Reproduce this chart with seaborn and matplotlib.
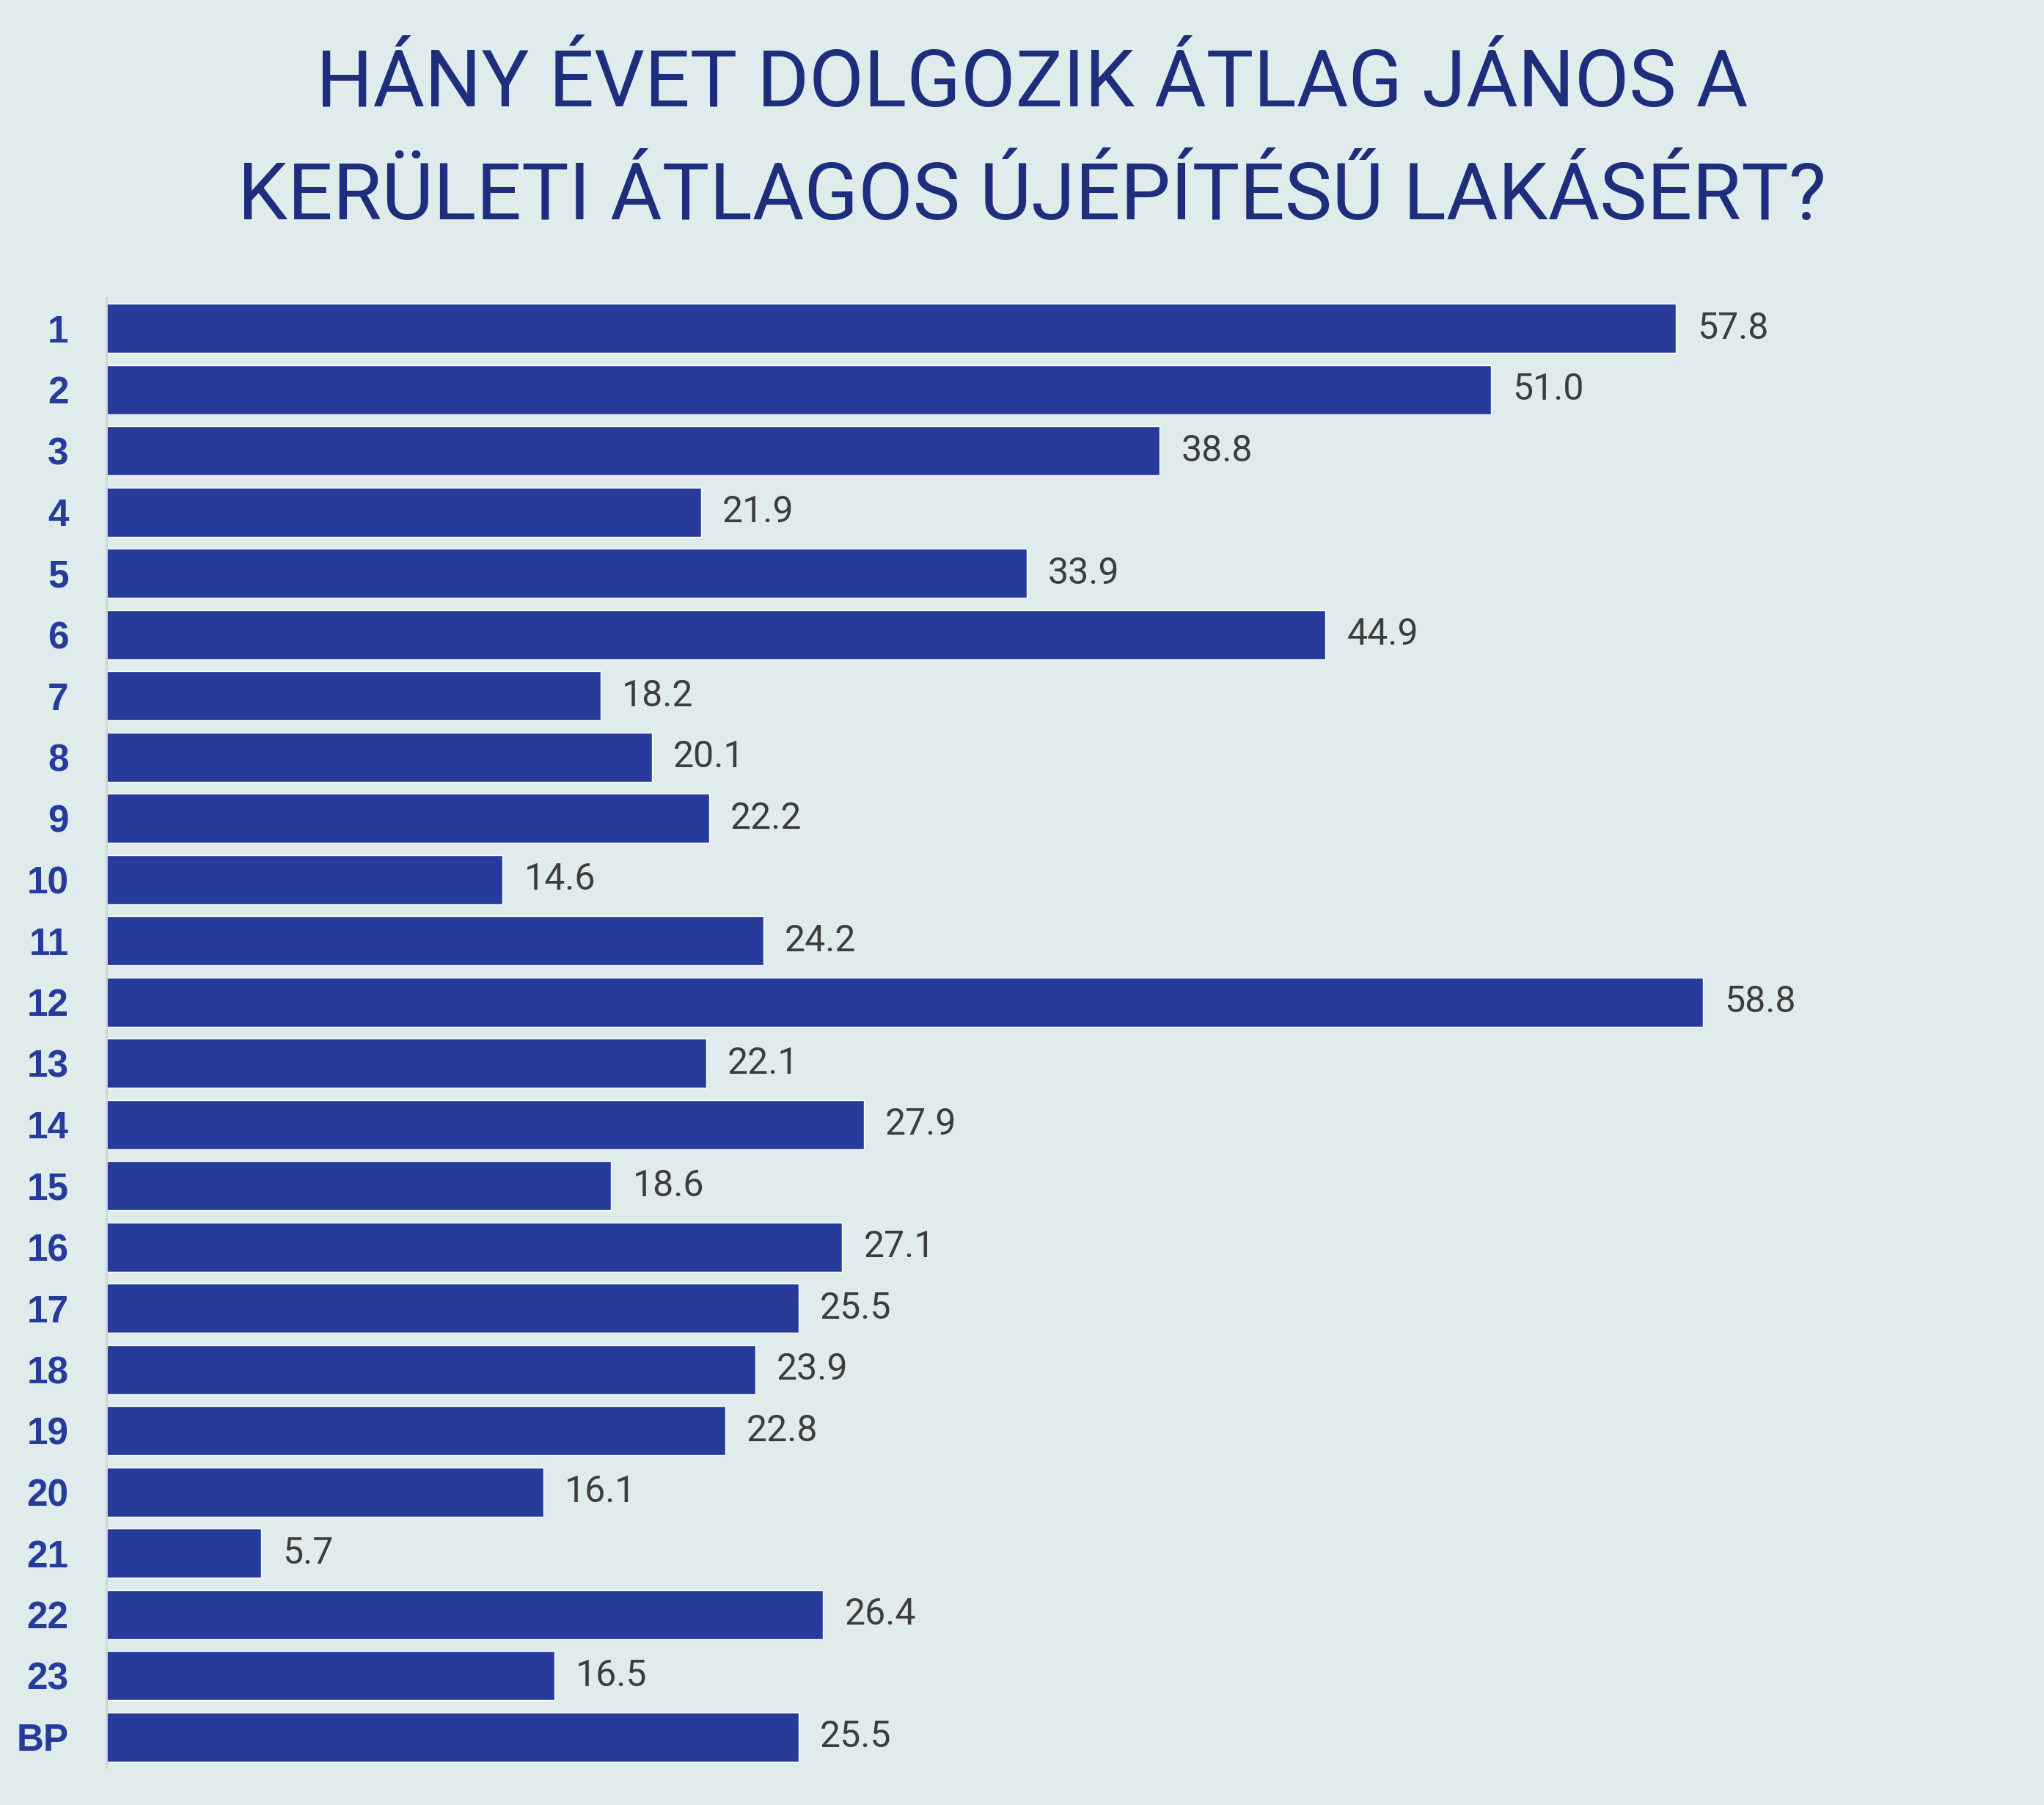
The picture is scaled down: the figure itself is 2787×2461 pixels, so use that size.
import matplotlib.pyplot as plt
import seaborn as sns
import pandas as pd

# kerületek és évek
districts = ['1', '2', '3', '4', '5', '6', '7', '8', '9', '10', '11', '12',
             '13', '14', '15', '16', '17', '18', '19', '20', '21', '22', '23', 'BP']
years = [57.8, 51.0, 38.8, 21.9, 33.9, 44.9, 18.2, 20.1, 22.2, 14.6, 24.2, 58.8,
         22.1, 27.9, 18.6, 27.1, 25.5, 23.9, 22.8, 16.1, 5.7, 26.4, 16.5, 25.5]

df = pd.DataFrame({'kerulet': districts, 'ev': years})

bg = '#E0ECEC'
bar_color = '#263B9A'
title_color = '#1F2E7C'

sns.set_style('white')
plt.rcParams['font.family'] = ['Roboto', 'DejaVu Sans']

fig = plt.figure(figsize=(27.87, 24.61), dpi=100, facecolor=bg)
ax = fig.add_axes([0.052, 0.0207, 0.948, 0.8143])
ax.set_facecolor(bg)

sns.barplot(data=df, x='ev', y='kerulet', color=bar_color, width=0.8,
            saturation=1, orient='h', ax=ax)

ax.bar_label(ax.containers[0], fmt='%.1f', padding=21, fontsize=36,
             color='#3D3D3D')

ax.set_xlim(0, 71.37)
ax.set_xlabel('')
ax.set_ylabel('')
ax.set_xticks([])
ax.tick_params(axis='y', length=0, pad=37)
for lbl in ax.get_yticklabels():
    lbl.set_fontfamily('Liberation Sans')
    lbl.set_fontweight('bold')
    lbl.set_fontsize(37)
    lbl.set_color(bar_color)

for side in ['top', 'right', 'bottom']:
    ax.spines[side].set_visible(False)
ax.spines['left'].set_color('#D0D4D6')
ax.spines['left'].set_linewidth(2)

fig.text(0.505, 0.974, 'HÁNY ÉVET DOLGOZIK ÁTLAG JÁNOS A\nKERÜLETI ÁTLAGOS ÚJÉPÍTÉSŰ LAKÁSÉRT?',
         ha='center', va='top', fontsize=78, color=title_color,
         linespacing=1.63)

fig.savefig('out.png', dpi=100, facecolor=bg)
